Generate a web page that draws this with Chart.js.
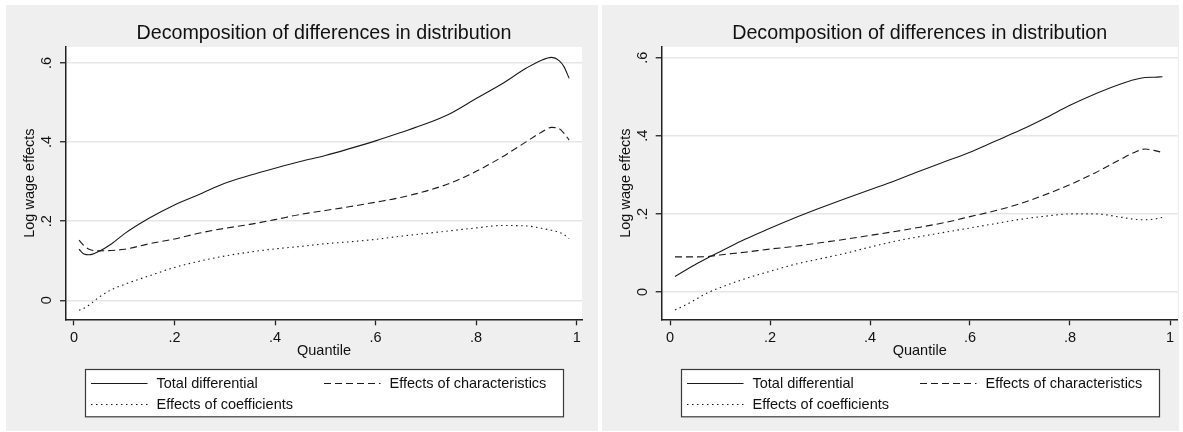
<!DOCTYPE html>
<html>
<head>
<meta charset="utf-8">
<script src="https://cdn.jsdelivr.net/npm/chart.js@4/dist/chart.umd.min.js"></script>
<style>
  html, body { margin: 0; padding: 0; background: #fff; width: 1183px; height: 432px; overflow: hidden; }
  .panel { position: absolute; top: 5px; height: 426px; background: #efefef; }
  #p1 { left: 6px; width: 592px; }
  #p2 { left: 602px; width: 577px; }
  canvas { display: block; }
</style>
</head>
<body>
<div class="panel" id="p1"><canvas id="c1" width="592" height="426"></canvas></div>
<div class="panel" id="p2"><canvas id="c2" width="577" height="426"></canvas></div>
<script>
// Text
const chartTitle = 'Decomposition of differences in distribution';
const xAxisTitle = 'Quantile';
const yAxisTitle = 'Log wage effects';
const seriesLabels = ['Total differential', 'Effects of characteristics', 'Effects of coefficients'];

// Tick values and their printed labels
const xTickValues = [0, 0.2, 0.4, 0.6, 0.8, 1];
const xTickLabels = ['0', '.2', '.4', '.6', '.8', '1'];
const yTickValues = [0, 0.2, 0.4, 0.6];
const yTickLabels = ['0', '.2', '.4', '.6'];

// First panel
const leftQuantiles = [0.01, 0.02, 0.03, 0.05, 0.075, 0.1, 0.15, 0.2, 0.25, 0.3, 0.35, 0.4, 0.45, 0.5,
  0.55, 0.6, 0.65, 0.7, 0.75, 0.8, 0.85, 0.9, 0.93, 0.95, 0.965, 0.975, 0.985];
const leftTotal = [0.129, 0.117, 0.115, 0.124, 0.143, 0.168, 0.208, 0.241, 0.268, 0.296, 0.316, 0.334, 0.351, 0.366,
  0.384, 0.403, 0.424, 0.446, 0.473, 0.510, 0.546, 0.587, 0.607, 0.614, 0.606, 0.590, 0.561];
const leftCharacteristics = [0.152, 0.138, 0.129, 0.125, 0.126, 0.129, 0.143, 0.155, 0.170, 0.182, 0.192, 0.204, 0.217, 0.227,
  0.237, 0.248, 0.260, 0.276, 0.297, 0.326, 0.361, 0.401, 0.425, 0.437, 0.434, 0.422, 0.405];
const leftCoefficients = [-0.025, -0.020, -0.012, 0.008, 0.027, 0.040, 0.062, 0.083, 0.099, 0.112, 0.122, 0.130, 0.136, 0.143,
  0.148, 0.154, 0.162, 0.169, 0.176, 0.183, 0.189, 0.188, 0.182, 0.177, 0.172, 0.166, 0.156];

// Second panel
const rightQuantiles = [0.01, 0.03, 0.05, 0.075, 0.1, 0.15, 0.2, 0.25, 0.3, 0.35, 0.4, 0.45, 0.5,
  0.55, 0.6, 0.65, 0.7, 0.75, 0.8, 0.85, 0.9, 0.93, 0.95, 0.97, 0.985];
const rightTotal = [0.040, 0.055, 0.070, 0.087, 0.103, 0.135, 0.163, 0.190, 0.215, 0.239, 0.262, 0.285, 0.310,
  0.334, 0.358, 0.386, 0.414, 0.445, 0.478, 0.507, 0.532, 0.544, 0.549, 0.550, 0.551];
const rightCharacteristics = [0.090, 0.090, 0.090, 0.091, 0.095, 0.102, 0.110, 0.117, 0.126, 0.135, 0.145, 0.155, 0.166,
  0.178, 0.193, 0.208, 0.226, 0.249, 0.275, 0.305, 0.339, 0.358, 0.366, 0.362, 0.357];
const rightCoefficients = [-0.046, -0.034, -0.020, -0.002, 0.011, 0.034, 0.053, 0.071, 0.085, 0.099, 0.115, 0.130, 0.142,
  0.153, 0.164, 0.175, 0.186, 0.194, 0.200, 0.200, 0.192, 0.186, 0.185, 0.187, 0.191];

Chart.defaults.font.family = "'Liberation Sans', Arial, Helvetica, sans-serif";
Chart.defaults.color = '#111';

const INK = '#1a1a1a';
const lineDashes = [[], [7, 4], [1.5, 3.5]];

// White plotting region on the grey panel
const plotBackground = {
  id: 'plotBackground',
  beforeDraw(chart) {
    const { ctx, chartArea: a } = chart;
    ctx.save();
    ctx.fillStyle = '#ffffff';
    ctx.fillRect(a.left, a.top, a.right - a.left, a.bottom - a.top);
    ctx.restore();
  }
};

// Boxed two-column key under the plot, styled from the datasets
const boxLegend = {
  id: 'boxLegend',
  afterDraw(chart, args, opts) {
    const { ctx, chartArea: a } = chart;
    const left = Math.round((a.left + a.right) / 2 - opts.width / 2) + 0.5;
    const top = Math.round(a.bottom + opts.gap) + 0.5;
    ctx.save();
    ctx.fillStyle = '#ffffff';
    ctx.fillRect(left, top, opts.width, opts.height);
    ctx.strokeStyle = '#3a3a3a';
    ctx.lineWidth = 1.2;
    ctx.strokeRect(left, top, opts.width, opts.height);
    ctx.font = `${opts.fontSize}px ${Chart.defaults.font.family}`;
    ctx.textBaseline = 'middle';
    ctx.textAlign = 'left';
    chart.data.datasets.forEach((ds, i) => {
      const col = i % 2, row = Math.floor(i / 2);
      const x0 = left + opts.columns[col];
      const y = Math.round(top + opts.rows[row]) + 0.5;
      ctx.strokeStyle = ds.borderColor;
      ctx.lineWidth = ds.borderWidth;
      ctx.setLineDash(ds.borderDash || []);
      ctx.beginPath();
      ctx.moveTo(x0, y);
      ctx.lineTo(x0 + opts.sampleLength, y);
      ctx.stroke();
      ctx.setLineDash([]);
      ctx.fillStyle = '#111';
      ctx.fillText(ds.label, x0 + opts.textOffset, y);
    });
    ctx.restore();
  }
};

function buildChart(canvasId, quantiles, series, frame) {
  const datasets = series.map((values, i) => ({
    label: seriesLabels[i],
    data: quantiles.map((q, k) => ({ x: q, y: values[k] })),
    borderColor: INK,
    borderWidth: 1.1,
    borderDash: lineDashes[i],
    pointRadius: 0,
    fill: false,
    cubicInterpolationMode: 'monotone'
  }));

  return new Chart(document.getElementById(canvasId), {
    type: 'line',
    data: { datasets },
    plugins: [plotBackground, boxLegend],
    options: {
      responsive: false,
      animation: false,
      events: [],
      layout: { padding: { top: 0, left: 0, right: frame.rightPad, bottom: 61.7 } },
      plugins: {
        legend: { display: false },
        tooltip: { enabled: false },
        title: {
          display: true,
          text: chartTitle,
          fullSize: false,
          color: '#111',
          font: { size: 19.7, weight: 'normal' },
          padding: { top: 16.3, bottom: 2 }
        },
        boxLegend: {
          width: 478, height: 47.3, gap: 49.4, fontSize: 14.5,
          columns: [5.5, 238.5], rows: [13, 34.6],
          sampleLength: 56.5, textOffset: 65.5
        }
      },
      scales: {
        x: {
          type: 'linear',
          min: frame.xMin,
          max: frame.xMax,
          afterBuildTicks: s => { s.ticks = xTickValues.map(v => ({ value: v })); },
          afterFit: s => { s.height = 50; },
          grid: { drawOnChartArea: false, drawTicks: true, tickLength: 6, tickColor: '#222', tickWidth: 1.3 },
          border: { display: true, color: '#222', width: 1.5 },
          ticks: {
            autoSkip: false, maxRotation: 0, minRotation: 0, padding: 3.7,
            color: '#111', font: { size: 14.5 },
            callback: (v, i) => xTickLabels[i]
          },
          title: { display: true, text: xAxisTitle, color: '#111', font: { size: 14.5 }, padding: { top: 0, bottom: 9.3 } }
        },
        y: {
          type: 'linear',
          min: frame.yMin,
          max: frame.yMax,
          afterBuildTicks: s => { s.ticks = yTickValues.map(v => ({ value: v })); },
          afterFit: s => { s.width = frame.axisWidth; },
          grid: { color: '#e6e6e6', lineWidth: 1.5, drawTicks: true, tickLength: 6, tickColor: '#222', tickWidth: 1.3 },
          border: { display: true, color: '#222', width: 1.5 },
          ticks: {
            autoSkip: false, minRotation: 90, maxRotation: 90, crossAlign: 'center', padding: 7,
            color: '#111', font: { size: 14.5 },
            callback: (v, i) => yTickLabels[i]
          },
          title: { display: true, text: yAxisTitle, color: '#111', font: { size: 14.5 }, padding: { top: 15, bottom: 0 } }
        }
      }
    }
  });
}

buildChart('c1', leftQuantiles, [leftTotal, leftCharacteristics, leftCoefficients],
  { xMin: -0.0159, xMax: 1.0106, yMin: -0.048, yMax: 0.6404, axisWidth: 60, rightPad: 16 });
buildChart('c2', rightQuantiles, [rightTotal, rightCharacteristics, rightCoefficients],
  { xMin: -0.0166, xMax: 1.0154, yMin: -0.0698, yMax: 0.6274, axisWidth: 59.7, rightPad: 1.3 });
</script>
</body>
</html>
